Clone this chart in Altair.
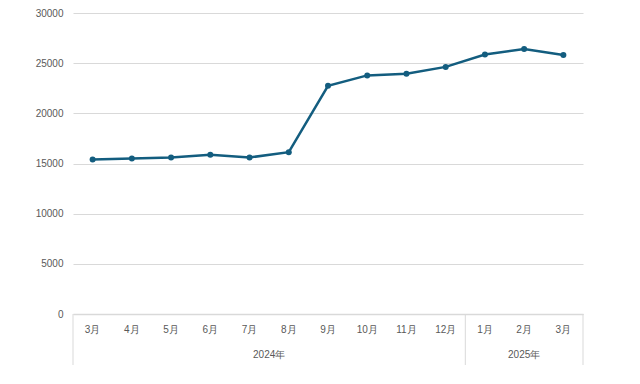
import altair as alt
import pandas as pd

months = ["3月", "4月", "5月", "6月", "7月", "8月", "9月", "10月", "11月", "12月", "1月", "2月", "3月"]
values = [15400, 15500, 15600, 15870, 15600, 16130, 22740, 23780, 23950, 24630, 25870, 26420, 25820]
years = ["2024年", "2025年"]
year_counts = [10, 3]

n = len(months)
df = pd.DataFrame({"month": months, "value": values, "pos": [i + 0.5 for i in range(n)]})

starts = []
s = 0
for c in year_counts:
    starts.append(s)
    s += c
groups = pd.DataFrame({"year": years, "start": starts,
                       "mid": [st + c / 2 for st, c in zip(starts, year_counts)]})
bounds = pd.DataFrame({"b": starts + [n]})

W, H = 510, 301
FONT = "Liberation Sans"
GRAY = "#595959"
LINE = "#135d7f"

xscale = alt.Scale(domain=[0, n], nice=False, zero=False)

base = alt.Chart(df)
line = base.mark_line(color=LINE, strokeWidth=2.5).encode(
    x=alt.X("pos:Q", scale=xscale,
            axis=alt.Axis(labels=False, ticks=False, grid=False, title=None,
                          domainColor="#d9d9d9", domainWidth=1.5, values=[])),
    y=alt.Y("value:Q", scale=alt.Scale(domain=[0, 30000], nice=False),
            axis=alt.Axis(values=[0, 5000, 10000, 15000, 20000, 25000, 30000],
                          title=None, domain=False, ticks=False, labelPadding=10,
                          gridColor="#d9d9d9", labelColor=GRAY, labelFont=FONT,
                          labelFontSize=10, format="d")),
)
points = base.mark_circle(color=LINE, size=36, opacity=1).encode(
    x=alt.X("pos:Q", scale=xscale), y="value:Q")

month_text = base.mark_text(font=FONT, fontSize=10, color=GRAY, baseline="middle").encode(
    x=alt.X("pos:Q", scale=xscale), y=alt.value(H + 16), text="month:N")

year_text = alt.Chart(groups).mark_text(font=FONT, fontSize=10, color=GRAY, baseline="middle").encode(
    x=alt.X("mid:Q", scale=xscale), y=alt.value(H + 41), text="year:N")

seps = alt.Chart(bounds).mark_rule(color="#d9d9d9", strokeWidth=1).encode(
    x=alt.X("b:Q", scale=xscale), y=alt.value(H), y2=alt.value(H + 51))

chart = alt.layer(line, seps, points, month_text, year_text).properties(
    width=W, height=H, autosize="none",
    padding={"left": 65, "top": 5, "right": 40, "bottom": 60},
).configure_view(stroke=None)

chart.save("out.html", embed_options={"renderer": "svg", "actions": False})
